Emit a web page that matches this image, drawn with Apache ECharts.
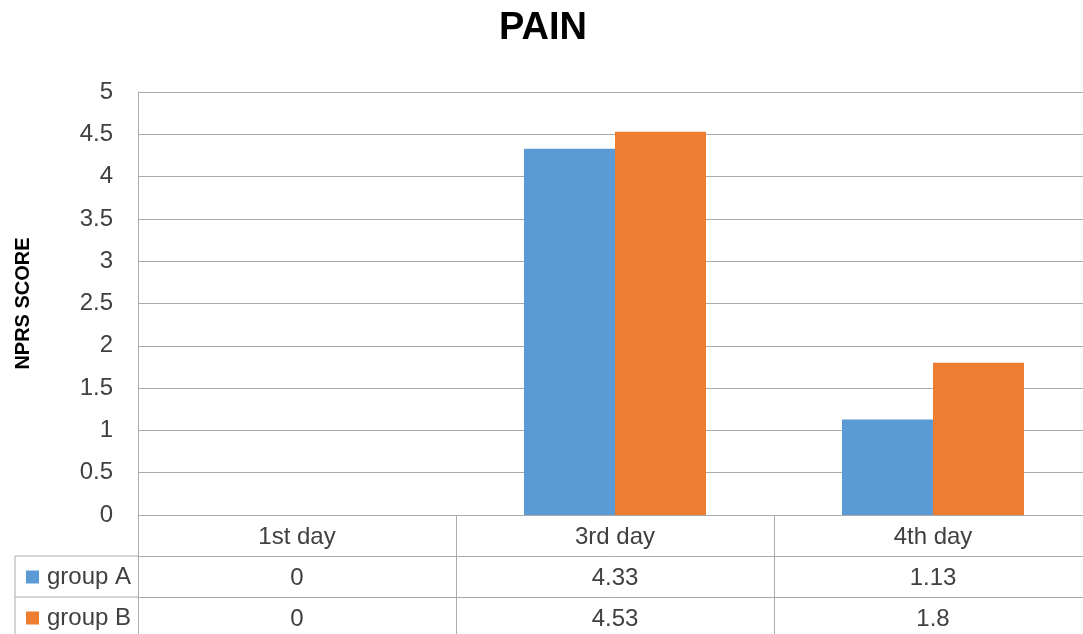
<!DOCTYPE html>
<html>
<head>
<meta charset="utf-8">
<script src="https://cdn.jsdelivr.net/npm/echarts@6/dist/echarts.min.js"></script>
<style>
  html, body { margin: 0; padding: 0; background: #ffffff; }
  #chart { width: 1083px; height: 634px; }
</style>
</head>
<body>
<div id="chart"></div>
<script>
// Chart data
const chartTitle = 'PAIN';
const yAxisName = 'NPRS SCORE';
const categories = ['1st day', '3rd day', '4th day'];
const seriesNames = ['group A', 'group B'];
const groupA = [0, 4.33, 1.13];
const groupB = [0, 4.53, 1.8];
const yMin = 0, yMax = 5, yStep = 0.5;

// Layout / style
const FONT = 'Liberation Sans';
const LINE = '#ababab';
const TEXT = '#404040';
const COLORS = ['#5B9BD5', '#ED7D31'];
const PLOT = { left: 138, top: 92, width: 954, height: 423 };
const ROW = 41;             // height of one data-table row
const TABLE_LEFT = 15;      // left edge of the legend column

const chart = echarts.init(document.getElementById('chart'), null, { renderer: 'canvas' });

const plotBottom = PLOT.top + PLOT.height;

// One bottom category axis per table row: header, group A values, group B values
function tableAxis(offset, tickLen, formatter) {
  return {
    type: 'category',
    data: categories,
    position: 'bottom',
    offset: offset,
    axisLine: { show: true, lineStyle: { color: LINE, width: 1 } },
    axisTick: { show: true, alignWithLabel: false, interval: 0, length: tickLen, lineStyle: { color: LINE, width: 1 } },
    axisLabel: {
      show: true, interval: 0, margin: 10,
      fontFamily: FONT, fontSize: 24, color: TEXT,
      formatter: formatter
    },
    splitLine: { show: false }
  };
}

const option = {
  backgroundColor: '#ffffff',
  animation: false,
  color: COLORS,
  title: {
    text: chartTitle,
    left: 499,
    top: 10,
    padding: 0,
    textStyle: { fontFamily: FONT, fontSize: 38, fontWeight: 'bold', color: '#000000' }
  },
  legend: {
    orient: 'vertical',
    left: TABLE_LEFT + 11,
    top: plotBottom + ROW + 9,
    padding: 0,
    itemWidth: 13,
    itemHeight: 13,
    itemGap: ROW - 24,
    icon: 'rect',
    data: seriesNames,
    textStyle: { fontFamily: FONT, fontSize: 24, lineHeight: 24, color: TEXT, padding: [0, 0, 0, 3] }
  },
  grid: {
    left: PLOT.left,
    top: PLOT.top,
    width: PLOT.width,
    height: PLOT.height,
    containLabel: false,
    outerBoundsMode: 'none'
  },
  xAxis: [
    tableAxis(0, ROW, v => v),
    tableAxis(ROW, ROW + 1, (v, i) => String(groupA[i])),
    tableAxis(ROW * 2, ROW + 20, (v, i) => String(groupB[i]))
  ],
  yAxis: {
    type: 'value',
    min: yMin,
    max: yMax,
    interval: yStep,
    name: yAxisName,
    nameLocation: 'middle',
    nameGap: 105,
    nameTextStyle: { fontFamily: FONT, fontSize: 20, fontWeight: 'bold', color: '#000000' },
    axisLine: { show: true, lineStyle: { color: LINE, width: 1 } },
    axisTick: { show: false },
    axisLabel: { margin: 25, fontFamily: FONT, fontSize: 24, color: TEXT },
    splitLine: { show: true, lineStyle: { color: LINE, width: 1 } }
  },
  series: [
    { name: seriesNames[0], type: 'bar', xAxisIndex: 0, data: groupA, barWidth: 91, barGap: '0%' },
    { name: seriesNames[1], type: 'bar', xAxisIndex: 0, data: groupB, barWidth: 91, barGap: '0%' }
  ],
  graphic: [
    // borders of the legend column of the data table
    { type: 'line', silent: true, shape: { x1: TABLE_LEFT, y1: plotBottom + ROW, x2: PLOT.left, y2: plotBottom + ROW }, style: { stroke: LINE, lineWidth: 1 } },
    { type: 'line', silent: true, shape: { x1: TABLE_LEFT, y1: plotBottom + ROW * 2, x2: PLOT.left, y2: plotBottom + ROW * 2 }, style: { stroke: LINE, lineWidth: 1 } },
    { type: 'line', silent: true, shape: { x1: TABLE_LEFT, y1: plotBottom + ROW, x2: TABLE_LEFT, y2: 660 }, style: { stroke: LINE, lineWidth: 1 } }
  ]
};

chart.setOption(option);
</script>
</body>
</html>
